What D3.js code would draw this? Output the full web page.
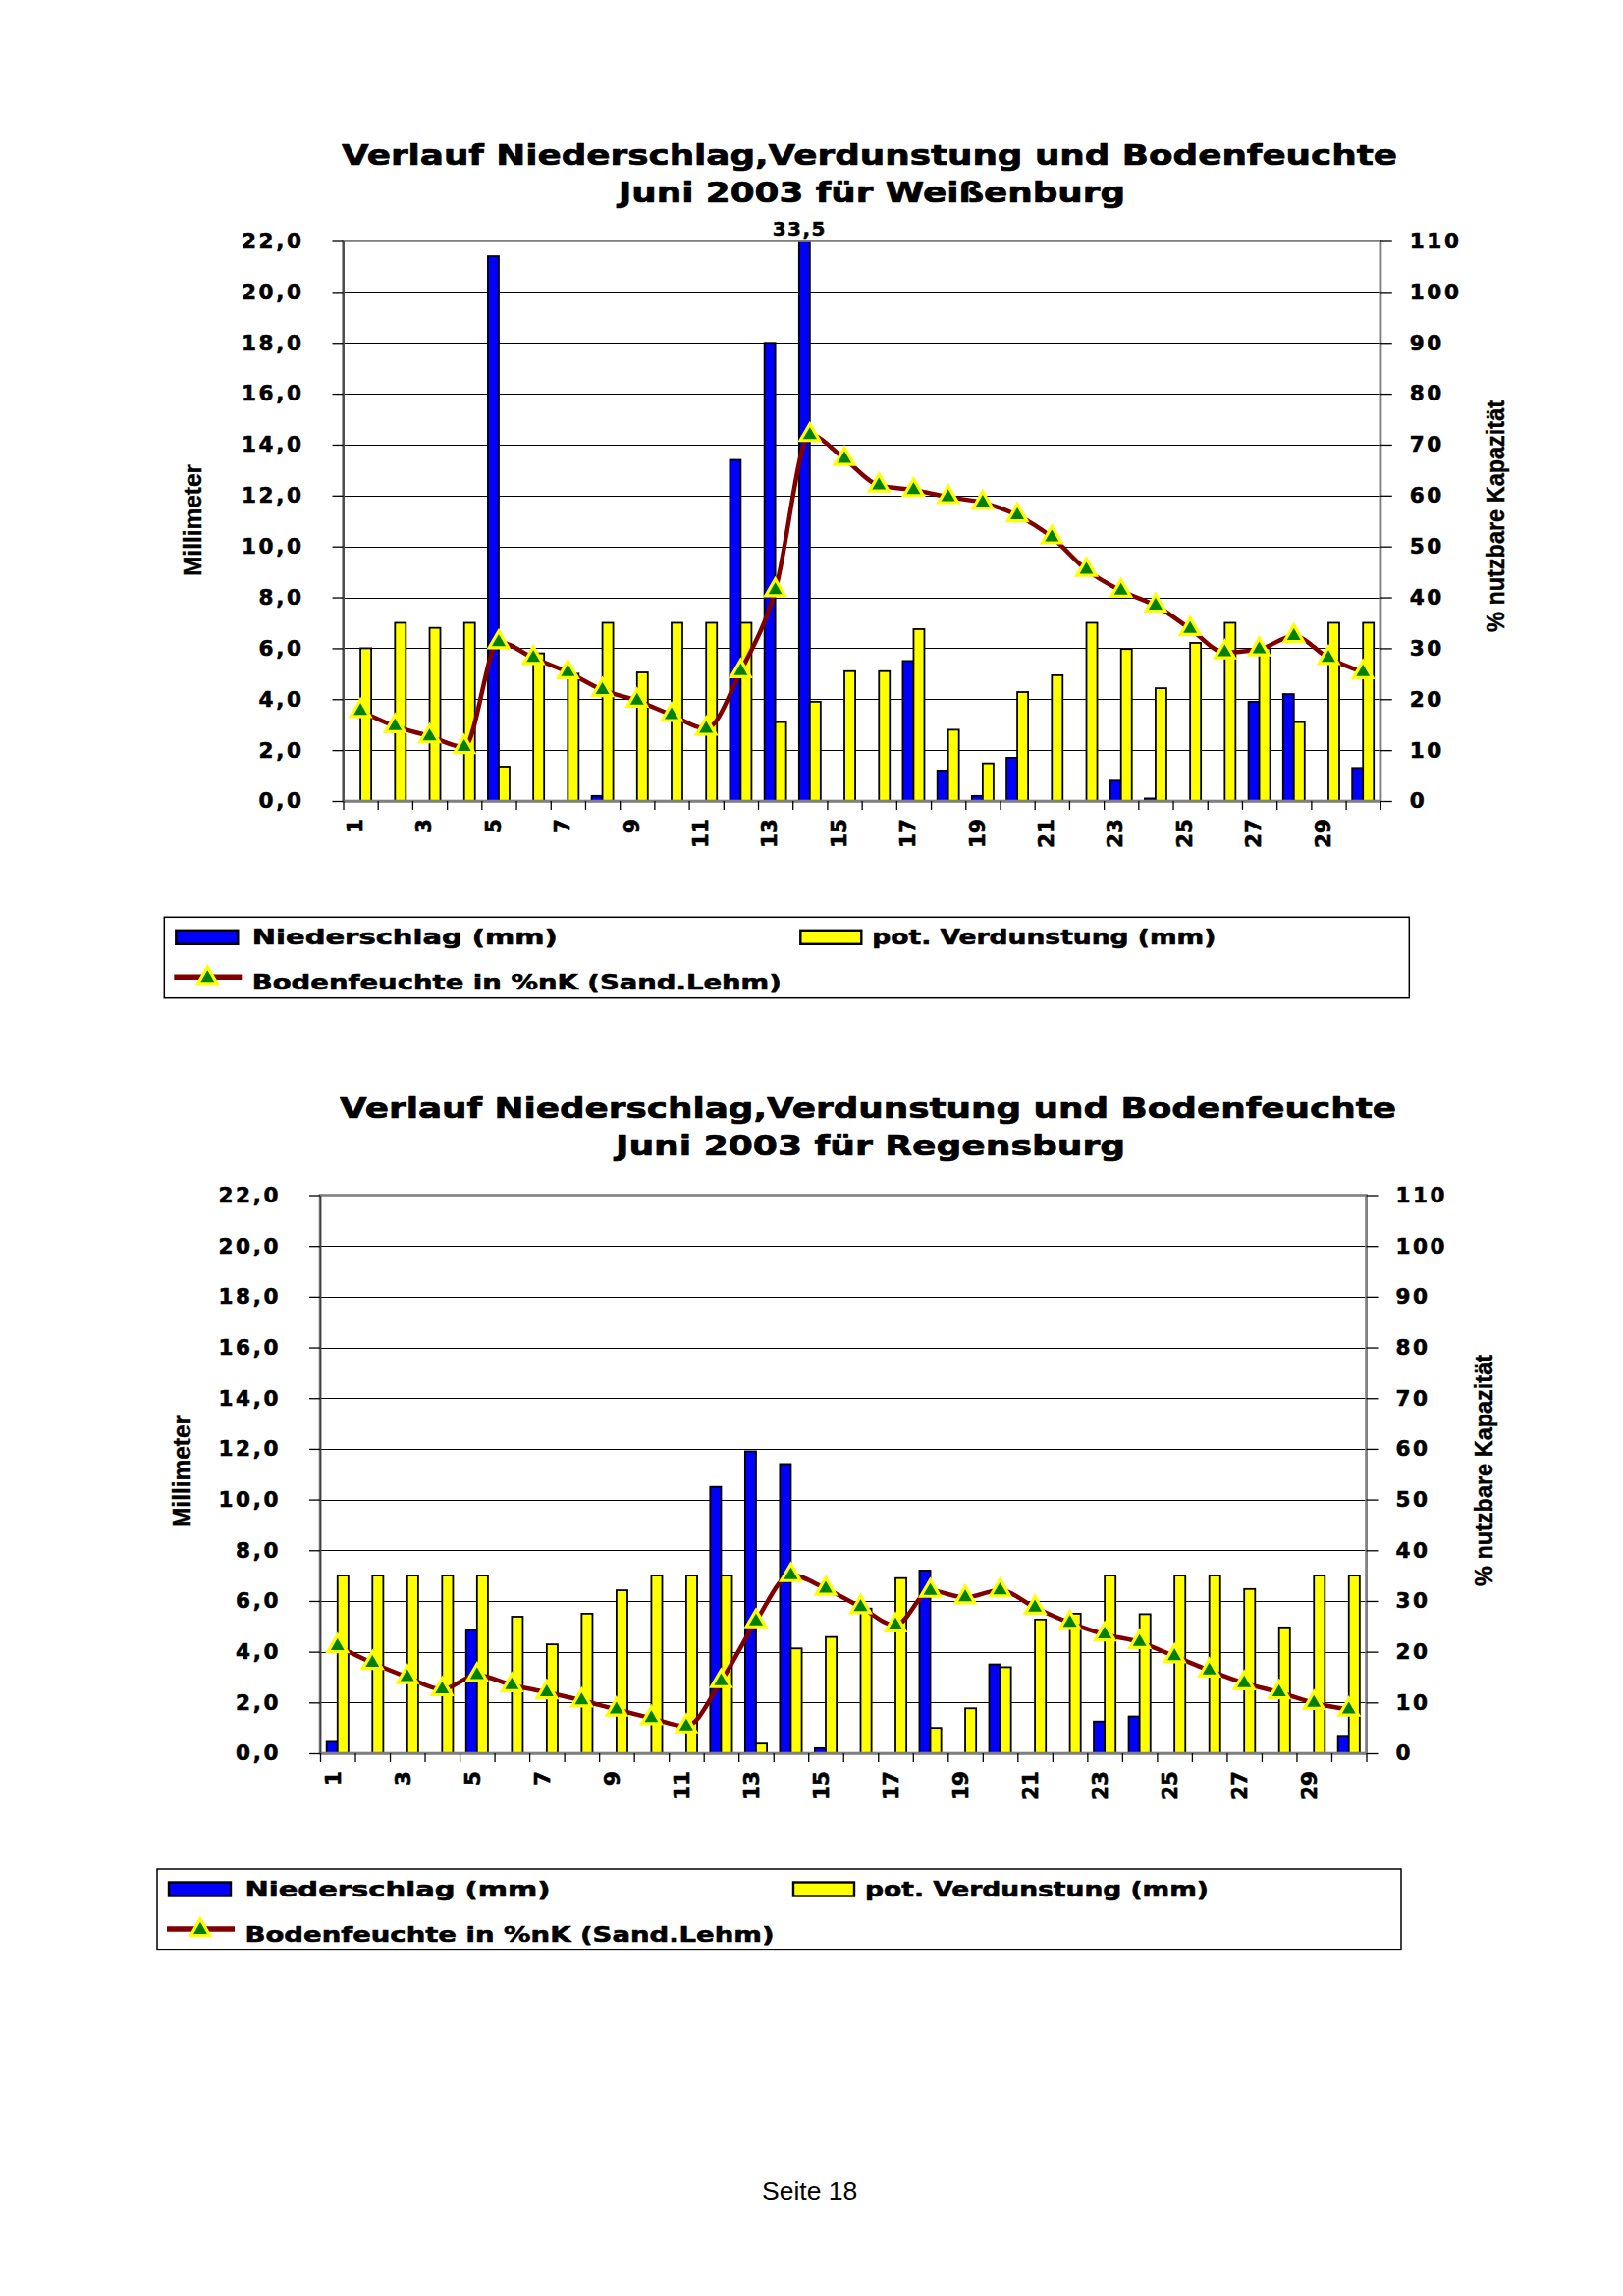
<!DOCTYPE html>
<html>
<head>
<meta charset="utf-8">
<script src="https://cdn.jsdelivr.net/npm/d3@7"></script>
<style>
  html, body { margin: 0; padding: 0; background: #ffffff; }
  svg { display: block; }
</style>
</head>
<body>
<svg id="page" width="1653" height="2339"></svg>
<script>
// ---------------- DATA ----------------
const days = [1,2,3,4,5,6,7,8,9,10,11,12,13,14,15,16,17,18,19,20,21,22,23,24,25,26,27,28,29,30];
const xLabelDays = [1,3,5,7,9,11,13,15,17,19,21,23,25,27,29];
const mmTicks = [0,2,4,6,8,10,12,14,16,18,20,22];
const mmTickLabels = ["0,0","2,0","4,0","6,0","8,0","10,0","12,0","14,0","16,0","18,0","20,0","22,0"];
const pctTicks = [0,10,20,30,40,50,60,70,80,90,100,110];

const seriesNames = ["Niederschlag (mm)", "pot. Verdunstung (mm)", "Bodenfeuchte in %nK (Sand.Lehm)"];
const titleLine1 = "Verlauf Niederschlag,Verdunstung und Bodenfeuchte";
const leftAxisTitle = "Millimeter";
const rightAxisTitle = "% nutzbare Kapazität";

// Weißenburg
const weissTitle2 = "Juni 2003 für Weißenburg";
const weissNieder = [0,0,0,0,21.4,0,0,0.2,0,0,0,13.4,18.0,33.5,0,0,5.5,1.2,0.2,1.7,0,0,0.8,0.1,0,0,3.9,4.2,0,1.3];
const weissVerd   = [6.0,7.0,6.8,7.0,1.35,5.8,5.0,7.0,5.05,7.0,7.0,7.0,3.1,3.9,5.1,5.1,6.75,2.8,1.48,4.28,4.94,7.0,5.97,4.43,6.21,7.0,6.0,3.1,7.0,7.0];
const weissBoden  = [17.7,14.7,12.7,10.6,31.2,28.1,25.3,21.8,19.7,16.9,14.2,25.5,41.4,71.9,67.2,62.0,61.1,59.7,58.6,56.1,51.8,45.4,41.3,38.4,33.8,29.2,29.8,32.4,28.1,25.3];

// Regensburg
const regTitle2 = "Juni 2003 für Regensburg";
const regNieder = [0.45,0,0,0,4.85,0,0,0,0,0,0,10.5,11.9,11.4,0.2,0,0,7.2,0,3.5,0,0,1.25,1.45,0,0,0,0,0,0.65];
const regVerd   = [7.0,7.0,7.0,7.0,7.0,5.38,4.29,5.5,6.42,7.0,7.0,7.0,0.38,4.13,4.58,5.7,6.9,1.0,1.77,3.39,5.27,5.5,7.0,5.48,7.0,7.0,6.47,4.96,7.0,7.0];
const regBoden  = [21.1,17.8,15.0,12.6,15.4,13.4,12.0,10.4,8.6,6.9,5.3,14.2,26.0,35.1,32.4,28.8,25.2,32.0,30.7,32.1,28.7,25.7,23.4,21.9,19.1,16.3,13.8,12.0,9.9,8.6];

const pageLabel = "Seite 18";

// ---------------- STYLE ----------------
const BLUE = "#0000ff", YELLOW = "#ffff00", LINE = "#800000", GREEN = "#008000";
const BOLD = "'DejaVu Sans', Verdana, sans-serif";
const ARIAL = "'Liberation Sans', Arial, sans-serif";

const svg = d3.select("#page");

function heavy(sel, sw) {
  return sel.attr("font-family", BOLD).attr("font-weight", "bold")
    .attr("fill", "#000").attr("stroke", "#000").attr("stroke-width", sw)
    .attr("stroke-linejoin", "round");
}

function drawChart(cfg) {
  const P = cfg.plot;
  const g = svg.append("g");

  const x0 = d3.scaleBand().domain(days).range([P.l, P.r]).padding(0);
  const x1 = d3.scaleBand().domain(["n","v"]).range([0, x0.bandwidth()]).paddingInner(0).paddingOuter(0.6);
  const y  = d3.scaleLinear().domain([0, 22]).range([P.b, P.t]).clamp(true);
  const y2 = d3.scaleLinear().domain([0, 110]).range([P.b, P.t]);
  const xb = d3.scaleLinear().domain([0, days.length]).range([P.l, P.r]);

  // titles
  heavy(g.append("text").text(titleLine1), 0.7)
    .attr("x", cfg.titleCx).attr("y", cfg.t1y).attr("text-anchor","middle")
    .attr("font-size", 28)
    .attr("textLength", cfg.t1w).attr("lengthAdjust","spacingAndGlyphs");
  heavy(g.append("text").text(cfg.title2), 0.7)
    .attr("x", cfg.titleCx2).attr("y", cfg.t2y).attr("text-anchor","middle")
    .attr("font-size", 28)
    .attr("textLength", cfg.t2w).attr("lengthAdjust","spacingAndGlyphs");

  // gridlines
  g.append("g").selectAll("line").data(mmTicks.filter(v => v > 0 && v < 22)).join("line")
    .attr("x1", P.l).attr("x2", P.r)
    .attr("y1", d => Math.round(y(d)) + 0.5).attr("y2", d => Math.round(y(d)) + 0.5)
    .attr("stroke", "#000").attr("stroke-width", 1.5).attr("shape-rendering", "crispEdges");

  // bars
  const dayG = g.append("g").selectAll("g").data(days).join("g")
    .attr("transform", d => `translate(${x0(d)},0)`);
  dayG.selectAll("rect")
    .data((d, i) => [{k:"n", v: cfg.nieder[i]}, {k:"v", v: cfg.verd[i]}].filter(e => e.v > 0))
    .join("rect")
    .attr("x", e => x1(e.k)).attr("width", x1.bandwidth())
    .attr("y", e => y(e.v)).attr("height", e => y(0) - y(e.v))
    .attr("fill", e => e.k === "n" ? BLUE : YELLOW)
    .attr("stroke", "#000").attr("stroke-width", 1.8);

  // plot border
  g.append("rect").attr("x", P.l).attr("y", P.t).attr("width", P.r - P.l).attr("height", P.b - P.t)
    .attr("fill", "none").attr("stroke", "#808080").attr("stroke-width", 2.6);

  // left axis
  const axL = g.append("g").attr("transform", `translate(${P.l},0)`)
    .call(d3.axisLeft(y).tickValues(mmTicks).tickFormat((d, i) => mmTickLabels[i])
      .tickSize(11).tickSizeOuter(0).tickPadding(29));
  axL.select(".domain").attr("stroke", "#404040").attr("stroke-width", 1.6);
  axL.selectAll(".tick line").attr("stroke", "#000").attr("stroke-width", 1.3);
  heavy(axL.selectAll("text"), 0.6).attr("font-size", 21.5).attr("letter-spacing", 2.6);

  // right axis
  const axR = g.append("g").attr("transform", `translate(${P.r},0)`)
    .call(d3.axisRight(y2).tickValues(pctTicks).tickSize(12).tickSizeOuter(0).tickPadding(18));
  axR.select(".domain").attr("stroke", "#808080").attr("stroke-width", 2);
  axR.selectAll(".tick line").attr("stroke", "#000").attr("stroke-width", 1.3);
  heavy(axR.selectAll("text"), 0.6).attr("font-size", 21.5).attr("letter-spacing", 2.6);

  // category boundary ticks
  const axB = g.append("g").attr("transform", `translate(0,${P.b})`)
    .call(d3.axisBottom(xb).tickValues(d3.range(0, days.length + 1)).tickFormat("").tickSize(9).tickSizeOuter(0));
  axB.select(".domain").attr("stroke", "#808080").attr("stroke-width", 2.6);
  axB.selectAll(".tick line").attr("stroke", "#000").attr("stroke-width", 1.3);

  // category labels (rotated)
  const axLab = g.append("g").attr("transform", `translate(0,${P.b})`)
    .call(d3.axisBottom(x0).tickValues(xLabelDays).tickSize(0));
  axLab.select(".domain").remove();
  heavy(axLab.selectAll("text"), 0.6)
    .attr("transform", "rotate(-90)").attr("text-anchor", "end")
    .attr("x", -18).attr("y", cfg.xLabShift).attr("dy", "0.36em")
    .attr("font-size", 21.5);

  // over-range data label
  const over = cfg.nieder.map((v, i) => ({v, d: days[i]})).filter(e => e.v > 22);
  heavy(g.append("g").selectAll("text").data(over).join("text"), 0.5)
    .attr("x", e => x0(e.d) + x1("n") + x1.bandwidth() / 2 - 5)
    .attr("y", P.t - 6).attr("text-anchor", "middle")
    .attr("font-size", 20).attr("letter-spacing", 1.5)
    .text(e => d3.format(".1f")(e.v).replace(".", ","));

  // line
  const cx = i => x0(days[i]) + x0.bandwidth() / 2;
  const line = d3.line().x((d, i) => cx(i)).y(d => y2(d)).curve(d3.curveMonotoneX);
  g.append("path").datum(cfg.boden).attr("d", line)
    .attr("fill", "none").attr("stroke", LINE).attr("stroke-width", 4.5).attr("stroke-linejoin", "round");

  const tri = d3.symbol(d3.symbolTriangle, 165);
  g.append("g").selectAll("path").data(cfg.boden).join("path")
    .attr("d", tri)
    .attr("transform", (d, i) => `translate(${cx(i)},${y2(d)})`)
    .attr("fill", GREEN).attr("stroke", YELLOW).attr("stroke-width", 3.2).attr("stroke-linejoin", "miter");

  // axis titles
  g.append("text").text(leftAxisTitle)
    .attr("transform", `translate(${cfg.millX},${cfg.millY}) rotate(-90)`)
    .attr("text-anchor", "middle").attr("font-family", ARIAL).attr("font-weight", "bold")
    .attr("font-size", 25).attr("stroke", "#000").attr("stroke-width", 0.4)
    .attr("textLength", 114).attr("lengthAdjust", "spacingAndGlyphs");
  g.append("text").text(rightAxisTitle)
    .attr("transform", `translate(${cfg.pctX},${cfg.pctY}) rotate(-90)`)
    .attr("text-anchor", "middle").attr("font-family", ARIAL).attr("font-weight", "bold")
    .attr("font-size", 25).attr("stroke", "#000").attr("stroke-width", 0.4)
    .attr("textLength", 236).attr("lengthAdjust", "spacingAndGlyphs");

  // legend
  const L = cfg.legend;
  const lg = g.append("g").attr("transform", `translate(${L.x},${L.y})`);
  lg.append("rect").attr("x", 0).attr("y", 0).attr("width", L.w).attr("height", L.h)
    .attr("fill", "#fff").attr("stroke", "#000").attr("stroke-width", 1.5);
  lg.append("rect").attr("x", 12).attr("y", 13.5).attr("width", 63).attr("height", 14)
    .attr("fill", BLUE).attr("stroke", "#000").attr("stroke-width", 2.4);
  lg.append("rect").attr("x", 648).attr("y", 13.5).attr("width", 62).attr("height", 14)
    .attr("fill", YELLOW).attr("stroke", "#000").attr("stroke-width", 2.4);
  lg.append("line").attr("x1", 10).attr("x2", 79).attr("y1", 61).attr("y2", 61)
    .attr("stroke", LINE).attr("stroke-width", 5.5);
  lg.append("path").attr("d", tri).attr("transform", "translate(44,62)")
    .attr("fill", GREEN).attr("stroke", YELLOW).attr("stroke-width", 3.2);
  const legText = [
    {t: seriesNames[0], x: 89.5, y: 28, w: 311},
    {t: seriesNames[1], x: 721, y: 28, w: 350},
    {t: seriesNames[2], x: 89.5, y: 74, w: 539}
  ];
  heavy(lg.selectAll("text.lt").data(legText).join("text"), 0.6)
    .attr("x", d => d.x).attr("y", d => d.y).text(d => d.t)
    .attr("font-size", 22)
    .attr("textLength", d => d.w).attr("lengthAdjust", "spacingAndGlyphs");
}

drawChart({
  title2: weissTitle2,
  nieder: weissNieder, verd: weissVerd, boden: weissBoden,
  plot: {l: 349.5, r: 1405.8, t: 245.5, b: 816},
  titleCx: 885.5, titleCx2: 888, t1y: 167.5, t2y: 205.5, t1w: 1075, t2w: 516,
  xLabShift: -6,
  millX: 205, millY: 530, pctX: 1532, pctY: 526,
  legend: {x: 167.3, y: 934.3, w: 1268, h: 82.4}
});

drawChart({
  title2: regTitle2,
  nieder: regNieder, verd: regVerd, boden: regBoden,
  plot: {l: 326, r: 1391.5, t: 1217.5, b: 1786},
  titleCx: 884, titleCx2: 886.5, t1y: 1138.5, t2y: 1176.5, t1w: 1076, t2w: 519,
  xLabShift: -5,
  millX: 194, millY: 1499, pctX: 1520, pctY: 1498,
  legend: {x: 160, y: 1904, w: 1267, h: 82.4}
});

svg.append("text").text(pageLabel)
  .attr("x", 776).attr("y", 2241)
  .attr("font-family", ARIAL).attr("font-size", 26.5).attr("fill", "#000");
</script>
</body>
</html>
